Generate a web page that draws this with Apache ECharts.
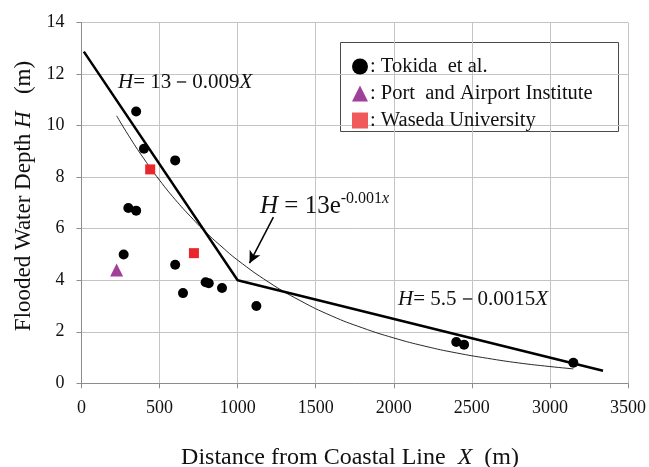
<!DOCTYPE html>
<html>
<head>
<meta charset="utf-8">
<script src="https://cdn.jsdelivr.net/npm/echarts@6/dist/echarts.min.js"></script>
<style>html,body{margin:0;padding:0;background:#fff;}#c{width:649px;height:467px;}</style>
</head>
<body>
<div id="c"></div>
<script>
// Tokida et al. (circles)
const tokidaX = [350, 400, 600, 300, 350, 270, 600, 650, 795, 815, 900, 1120, 2400, 2450, 3150];
const tokidaY = [10.55, 9.1, 8.65, 6.8, 6.7, 5.0, 4.6, 3.5, 3.92, 3.88, 3.7, 3.0, 1.6, 1.5, 0.8];
// Port and Airport Institute (triangle)
const pariX = [225];
const pariY = [4.4];
// Waseda University (squares)
const wasedaX = [440, 720];
const wasedaY = [8.3, 5.05];
// Piecewise linear fit H=13-0.009X / H=5.5-0.0015X
const fitX = [15, 1000, 3340];
const fitY = [12.87, 4.0, 0.49];
// Exponential fit H = 13e^(-0.001x), read values
const expX = [225, 300, 400, 500, 600, 700, 800, 900, 1000, 1200, 1400, 1600, 1800, 2000, 2200, 2400, 2600, 2800, 3000, 3150];
const expY = [10.38, 9.63, 8.71, 7.88, 7.13, 6.46, 5.84, 5.29, 4.78, 3.92, 3.21, 2.62, 2.15, 1.76, 1.44, 1.18, 0.97, 0.79, 0.65, 0.56];
// Arrow annotation endpoints (data coordinates)
const arrowFrom = [1229, 6.45];
const arrowTo = [1076, 4.66];
const xTicks = {min: 0, max: 3500, interval: 500};
const yTicks = {min: 0, max: 14, interval: 2};

const zip = (a, b) => a.map((v, i) => [v, b[i]]);
const FONT = 'Liberation Serif';
const chart = echarts.init(document.getElementById('c'), null, {renderer: 'canvas'});
const legendNames = {
  'Tokida et al.': ': Tokida  et al.',
  'Port and Airport Institute': ': Port  and Airport Institute',
  'Waseda University': ': Waseda University'
};
chart.setOption({
  animation: false,
  backgroundColor: '#fff',
  grid: {left: 81.5, right: 19.5, top: 22.5, bottom: 83.7},
  xAxis: {
    type: 'value', min: xTicks.min, max: xTicks.max, interval: xTicks.interval,
    axisLine: {show: true, lineStyle: {color: '#8c8c8c', width: 1}},
    axisTick: {show: true, length: 5, lineStyle: {color: '#8c8c8c'}},
    axisLabel: {color: '#111', fontFamily: FONT, fontSize: 18, margin: 16, formatter: v => String(v)},
    splitLine: {show: true, lineStyle: {color: '#c4c4c4', width: 1}}
  },
  yAxis: {
    type: 'value', min: yTicks.min, max: yTicks.max, interval: yTicks.interval,
    axisLine: {show: true, lineStyle: {color: '#8c8c8c', width: 1}},
    axisTick: {show: true, length: 5, lineStyle: {color: '#8c8c8c'}},
    axisLabel: {color: '#111', fontFamily: FONT, fontSize: 18, margin: 17},
    splitLine: {show: true, lineStyle: {color: '#c4c4c4', width: 1}}
  },
  legend: {
    orient: 'vertical', left: 347, top: 51,
    itemWidth: 16, itemHeight: 16, itemGap: 6,
    data: [
      {name: 'Tokida et al.', icon: 'circle', itemStyle: {color: '#000'}},
      {name: 'Port and Airport Institute', icon: 'triangle'},
      {name: 'Waseda University', icon: 'rect', itemStyle: {color: '#f05a5a'}}
    ],
    formatter: n => legendNames[n],
    textStyle: {fontFamily: FONT, fontSize: 20.5, color: '#111', padding: [0, 0, 0, -3]},
    selectedMode: false
  },
  graphic: [
    {type: 'rect', shape: {x: 340.5, y: 42.5, width: 278, height: 89}, style: {fill: '#fff', stroke: '#4a4a4a', lineWidth: 1}, z: 0},
    {type: 'text', left: 118, top: 72, z: 50, style: {
      text: '{i|H}{n|= 13－0.009}{i|X}', rich: {
        i: {fontFamily: FONT, fontStyle: 'italic', fontSize: 21, fill: '#111'},
        n: {fontFamily: FONT, fontSize: 21, fill: '#111'}}}},
    {type: 'text', left: 398, top: 289, z: 50, style: {
      text: '{i|H}{n|= 5.5－0.0015}{i|X}', rich: {
        i: {fontFamily: FONT, fontStyle: 'italic', fontSize: 21, fill: '#111'},
        n: {fontFamily: FONT, fontSize: 21, fill: '#111'}}}},
    {type: 'text', left: 260, top: 191, z: 50, style: {
      text: '{i|H}{n| = 13e}{s|-0.001}{si|x}', rich: {
        i: {fontFamily: FONT, fontStyle: 'italic', fontSize: 25, fill: '#111', verticalAlign: 'bottom'},
        n: {fontFamily: FONT, fontSize: 25, fill: '#111', verticalAlign: 'bottom'},
        s: {fontFamily: FONT, fontSize: 16, fill: '#111', verticalAlign: 'top', padding: [0, 0, 12, 0]},
        si: {fontFamily: FONT, fontStyle: 'italic', fontSize: 16, fill: '#111', verticalAlign: 'top', padding: [0, 0, 12, 0]}}}},
    {type: 'text', x: 350, y: 458, z: 50, style: {
      text: '{n|Distance from Coastal Line  }{i|X}{n|  (m)}', align: 'center', verticalAlign: 'middle', rich: {
        i: {fontFamily: FONT, fontStyle: 'italic', fontSize: 24, fill: '#111'},
        n: {fontFamily: FONT, fontSize: 24, fill: '#111'}}}},
    {type: 'text', x: 24, y: 196, rotation: Math.PI / 2, z: 50, style: {
      text: '{n|Flooded Water Depth }{i|H}{n|   (m)}', align: 'center', verticalAlign: 'middle', rich: {
        i: {fontFamily: FONT, fontStyle: 'italic', fontSize: 23, fill: '#111'},
        n: {fontFamily: FONT, fontSize: 23, fill: '#111'}}}}
  ],
  series: [
    {
      name: 'exp', type: 'line', data: zip(expX, expY), smooth: true, showSymbol: false, symbol: 'none',
      lineStyle: {color: '#111', width: 0.9}, z: 2, silent: true
    },
    {
      name: 'fit', type: 'line', data: zip(fitX, fitY), showSymbol: false, symbol: 'none',
      lineStyle: {color: '#000', width: 2.5}, z: 3, silent: true,
      markLine: {
        silent: true, symbol: ['none', 'arrow'], symbolSize: [9, 12], label: {show: false},
        lineStyle: {color: '#000', width: 1.5, type: 'solid'},
        data: [[{coord: arrowFrom}, {coord: arrowTo}]]
      }
    },
    {
      name: 'Tokida et al.', type: 'scatter', data: zip(tokidaX, tokidaY), symbol: 'circle', symbolSize: 10,
      itemStyle: {color: '#000', opacity: 1}, z: 5
    },
    {
      name: 'Port and Airport Institute', type: 'scatter', data: zip(pariX, pariY), symbol: 'triangle', symbolSize: 13,
      itemStyle: {color: '#a0409a', opacity: 1}, z: 5
    },
    {
      name: 'Waseda University', type: 'scatter', data: zip(wasedaX, wasedaY), symbol: 'rect', symbolSize: 10,
      itemStyle: {color: '#e8262b', opacity: 1}, z: 5
    }
  ]
});
</script>
</body>
</html>
